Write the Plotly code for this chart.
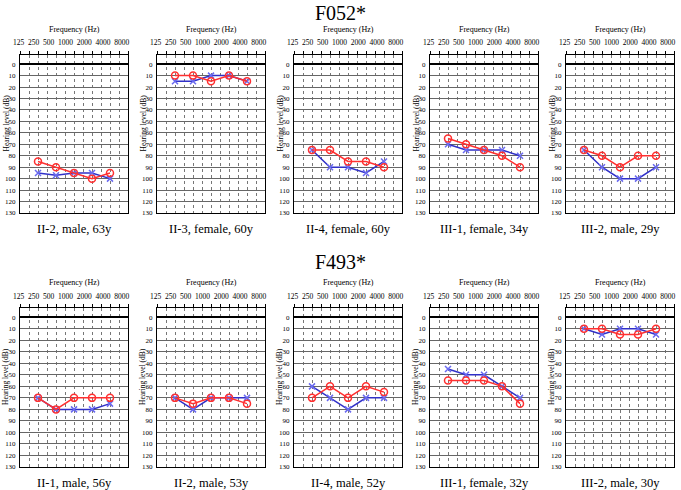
import plotly.graph_objects as go

W, H = 681, 490
FONT = "Liberation Serif"

freqs = [250, 500, 1000, 2000, 4000]
freq_tick_labels = ["125", "250", "500", "1000", "2000", "4000", "8000"]
db_ticks = list(range(0, 140, 10))

family_titles = ["F052*", "F493*"]

# Row 1: F052*
f052_labels = ["II-2, male, 63y", "II-3, female, 60y", "II-4, female, 60y",
               "III-1, female, 34y", "III-2, male, 29y"]
f052_red = [[85, 90, 95, 100, 95],
            [10, 10, 15, 10, 15],
            [75, 75, 85, 85, 90],
            [65, 70, 75, 80, 90],
            [75, 80, 90, 80, 80]]
f052_blue = [[95, 97, 95, 95, 100],
             [15, 15, 10, 10, 15],
             [75, 90, 90, 95, 85],
             [70, 75, 75, 75, 80],
             [75, 90, 100, 100, 90]]

# Row 2: F493*
f493_labels = ["II-1, male, 56y", "II-2, male, 53y", "II-4, male, 52y",
               "III-1, female, 32y", "III-2, male, 30y"]
f493_red = [[70, 80, 70, 70, 70],
            [70, 75, 70, 70, 75],
            [70, 60, 70, 60, 65],
            [55, 55, 55, 60, 75],
            [10, 10, 15, 15, 10]]
f493_blue = [[70, 80, 80, 80, 75],
             [70, 80, 70, 70, 70],
             [60, 70, 80, 70, 70],
             [45, 50, 50, 60, 70],
             [10, 15, 10, 10, 15]]

rows = [
    (f052_labels, f052_red, f052_blue),
    (f493_labels, f493_red, f493_blue),
]

# layout geometry (pixels)
panel_left = [20, 157, 294, 430, 566]
panel_w = 108
row_top = [55, 308]
row_bot = [213, 467]
title_top = [0.5, 250]

RED = "#ff3030"
BLUE = "#3030c8"

half_oct = [125 * 2 ** (k / 2) for k in range(13)]

fig = go.Figure()
layout = dict(
    width=W, height=H, margin=dict(l=0, r=0, t=0, b=0, autoexpand=False),
    paper_bgcolor="white", plot_bgcolor="white", showlegend=False,
    font=dict(family=FONT, color="black"),
)
annotations = []

def px_x(x):
    return x / W

def px_y(y):
    return 1 - y / H

idx = 0
for r, (labels, reds, blues) in enumerate(rows):
    annotations.append(dict(
        text=family_titles[r], x=px_x(340), y=px_y(title_top[r]), xref="paper", yref="paper",
        showarrow=False, font=dict(size=20, family=FONT, color="black"), borderpad=0,
        xanchor="center", yanchor="top"))
    for c in range(5):
        idx += 1
        sfx = "" if idx == 1 else str(idx)
        xa, ya = "x" + sfx, "y" + sfx
        left = panel_left[c]
        right = left + panel_w
        top, bot = row_top[r], row_bot[r]
        layout["xaxis" + sfx] = dict(
            type="log", range=[2.0969, 3.9031], automargin=False,
            domain=[px_x(left), px_x(right)], anchor=ya,
            side="top", tickmode="array", tickvals=half_oct, showticklabels=False,
            ticks="outside", ticklen=3, tickcolor="black", tickwidth=1,
            showgrid=True, gridcolor="#777777", gridwidth=0.7, griddash="dot",
            showline=True, linecolor="black", linewidth=1, mirror=True,
            zeroline=False, fixedrange=True,
        )
        layout["yaxis" + sfx] = dict(
            range=[130, -8], domain=[px_y(bot), px_y(top)], anchor=xa, automargin=False,
            tickmode="array", tickvals=db_ticks, ticktext=[str(v) for v in db_ticks],
            tickfont=dict(size=7, family=FONT, color="black"),
            ticks="", ticklabelstandoff=2,
            showgrid=True, gridcolor="#666666", gridwidth=0.8,
            zeroline=True, zerolinecolor="black", zerolinewidth=2,
            showline=True, linecolor="black", linewidth=1, mirror=True,
            fixedrange=True,
        )
        fig.add_trace(go.Scatter(
            x=freqs, y=blues[c], xaxis=xa, yaxis=ya, mode="lines+markers",
            line=dict(color=BLUE, width=1.5),
            marker=dict(symbol="x-thin", size=6, line=dict(color="#6a6af0", width=1.5)),
        ))
        fig.add_trace(go.Scatter(
            x=freqs, y=reds[c], xaxis=xa, yaxis=ya, mode="lines+markers",
            line=dict(color=RED, width=1.5),
            marker=dict(symbol="circle-open", size=7, color=RED, line=dict(width=1.5)),
        ))
        cx = (left + right) / 2
        annotations.append(dict(
            text="Frequency (Hz)", x=px_x(cx), y=px_y(top - 26), xref="paper", yref="paper",
            showarrow=False, font=dict(size=8, family=FONT, color="black"),
            xanchor="center", yanchor="middle"))
        annotations.append(dict(
            text="\u2002".join(freq_tick_labels), x=px_x(cx - 3), y=px_y(top - 12),
            xref="paper", yref="paper", showarrow=False,
            font=dict(size=7.5, family=FONT, color="black"),
            xanchor="center", yanchor="middle"))
        annotations.append(dict(
            text="Hearing level (dB)", x=px_x(left - 14.5), y=px_y((top + bot) / 2 - 11),
            xref="paper", yref="paper", showarrow=False, textangle=-90,
            font=dict(size=7.5, family=FONT, color="black"),
            xanchor="center", yanchor="middle"))
        annotations.append(dict(
            text=labels[c], x=px_x(cx), y=px_y(bot + 16), xref="paper", yref="paper",
            showarrow=False, font=dict(size=12.5, family=FONT, color="black"),
            xanchor="center", yanchor="middle"))

layout["annotations"] = annotations
fig.update_layout(**layout)
fig.write_html("out.html", config={"displayModeBar": False},
               post_script="document.body.style.margin='0';document.body.style.overflow='hidden';")
